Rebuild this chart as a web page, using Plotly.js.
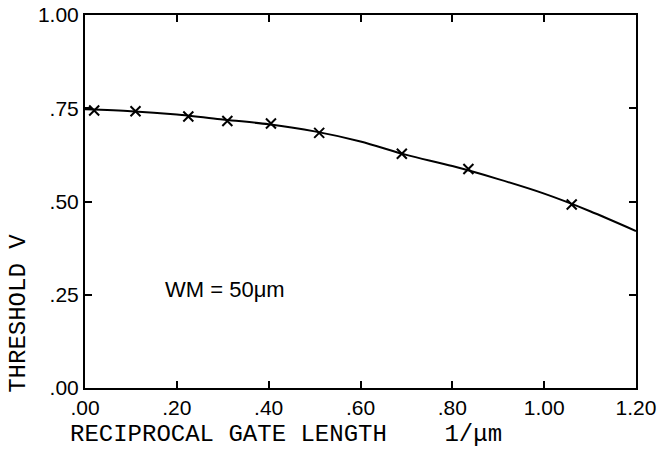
<!DOCTYPE html>
<html>
<head>
<meta charset="utf-8">
<script src="https://cdn.plot.ly/plotly-3.0.1.min.js"></script>
<style>html,body{margin:0;padding:0;background:#fff;}#chart{width:665px;height:463px;}</style>
</head>
<body>
<div id="chart"></div>
<script>
// Measured points (x markers)
const pointX = [0.02, 0.11, 0.225, 0.31, 0.405, 0.51, 0.69, 0.835, 1.06];
const pointY = [0.744, 0.742, 0.728, 0.716, 0.709, 0.684, 0.628, 0.587, 0.492];
// Fitted curve
const curveX = [0.0, 0.1, 0.2, 0.3, 0.4, 0.5, 0.6, 0.7, 0.8, 0.9, 1.0, 1.1, 1.2];
const curveY = [0.747, 0.742, 0.733, 0.720, 0.707, 0.688, 0.661, 0.625, 0.595, 0.560, 0.521, 0.474, 0.421];
// Tick labels
const xTickVals = [0, 0.2, 0.4, 0.6, 0.8, 1.0, 1.2];
const xTickText = ['.00', '.20', '.40', '.60', '.80', '1.00', '1.20'];
const yTickVals = [0, 0.25, 0.5, 0.75, 1.0];
const yTickText = ['.00', '.25', '.50', '.75', '1.00'];

const mono = 'Liberation Mono, DejaVu Sans Mono, monospace';
const sans = 'Liberation Sans, Arial, sans-serif';

const traces = [
  {x: curveX, y: curveY, type: 'scatter', mode: 'lines', line: {color: '#000', width: 2, shape: 'spline', smoothing: 0.8}, hoverinfo: 'skip'},
  {x: pointX, y: pointY, type: 'scatter', mode: 'markers', marker: {symbol: 'x-thin', size: 10, line: {color: '#000', width: 2}, color: '#000'}}
];

const axisCommon = {
  showgrid: false, zeroline: false, showline: true, linecolor: '#000', linewidth: 2,
  mirror: 'ticks', ticks: 'inside', ticklen: 7, tickwidth: 2, tickcolor: '#000',
  tickfont: {family: sans, size: 21, color: '#000'}
};

const layout = {
  width: 665, height: 463,
  margin: {l: 85, r: 29, t: 15, b: 75},
  paper_bgcolor: '#fff', plot_bgcolor: '#fff',
  showlegend: false,
  xaxis: Object.assign({}, axisCommon, {range: [0, 1.2], tickmode: 'array', tickvals: xTickVals, ticktext: xTickText}),
  yaxis: Object.assign({}, axisCommon, {range: [0, 1.0], tickmode: 'array', tickvals: yTickVals, ticktext: yTickText}),
  annotations: [
    {text: 'RECIPROCAL GATE LENGTH    1/μm', xref: 'paper', yref: 'paper', x: -0.031, y: -0.124, xanchor: 'left', yanchor: 'middle', showarrow: false, font: {family: mono, size: 24, color: '#000'}},
    {text: 'THRESHOLD V', xref: 'paper', yref: 'paper', x: -0.122, y: 0.201, xanchor: 'center', yanchor: 'middle', textangle: -90, showarrow: false, font: {family: mono, size: 24, color: '#000'}},
    {text: 'WM = 50μm', xref: 'x', yref: 'y', x: 0.305, y: 0.265, xanchor: 'center', yanchor: 'middle', showarrow: false, font: {family: sans, size: 22, color: '#000'}}
  ]
};

Plotly.newPlot('chart', traces, layout, {displayModeBar: false, staticPlot: true});
</script>
</body>
</html>
